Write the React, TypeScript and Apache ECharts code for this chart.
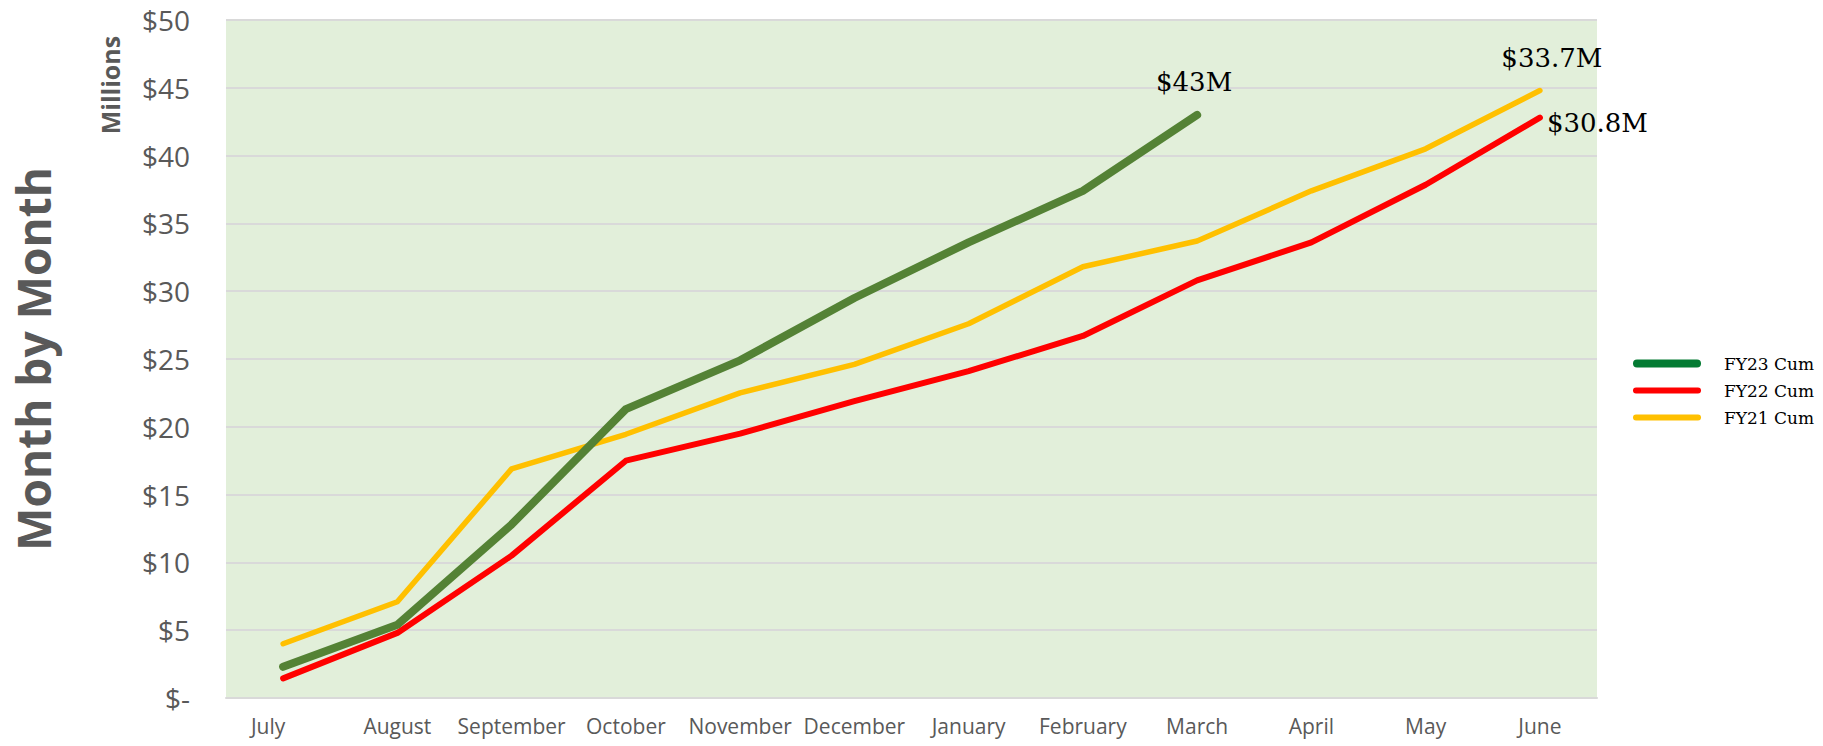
import React, { useEffect, useRef } from "react";
import * as echarts from "echarts";

const months = ["July", "August", "September", "October", "November", "December", "January", "February", "March", "April", "May", "June"];
const fy23 = [2.3, 5.4, 12.8, 21.3, 24.9, 29.5, 33.6, 37.4, 43.0];
const fy22 = [1.45, 4.8, 10.5, 17.5, 19.5, 21.9, 24.1, 26.7, 30.8, 33.6, 37.85, 42.8];
const fy21 = [4.0, 7.1, 16.9, 19.45, 22.5, 24.6, 27.6, 31.8, 33.7, 37.4, 40.5, 44.8];
const seriesNames = ["FY23 Cum", "FY22 Cum", "FY21 Cum"];
const endLabels = ["$43M", "$30.8M", "$33.7M"];
const yTicks = [0, 5, 10, 15, 20, 25, 30, 35, 40, 45, 50];

const GREEN = "#548235";
const LEGEND_GREEN = "#047B33";
const RED = "#FF0000";
const YELLOW = "#FFC000";

const iconThick = "path://M4,0 H64 A4,4 0 0 1 64,8 H4 A4,4 0 0 1 4,0 Z";
const iconThin = "path://M3,0 H65 A3,3 0 0 1 65,6 H3 A3,3 0 0 1 3,0 Z";

function withEndLabel(values: number[], text: string, label: any) {
  return values.map((v, i) =>
    i === values.length - 1
      ? { value: v, label: { show: true, formatter: text, ...label } }
      : v
  );
}

export default function App() {
  const ref = useRef<HTMLDivElement>(null);
  useEffect(() => {
    if (!ref.current) return;
    const chart = echarts.init(ref.current, undefined, { renderer: "svg" });
    const serifLabel = {
      fontFamily: "DejaVu Serif",
      fontSize: 26,
      color: "#000000",
    };
    const lineCommon = {
      type: "line",
      symbol: "circle",
      symbolSize: 0,
      showSymbol: true,
      label: { show: false },
    };
    chart.setOption({
      animation: false,
      backgroundColor: "#ffffff",
      grid: {
        left: 226,
        right: 226,
        top: 20,
        bottom: 48,
        show: true,
        backgroundColor: "#E2EFDA",
        borderWidth: 0,
      },
      legend: {
        orient: "vertical",
        left: 1633,
        top: 355,
        padding: 0,
        itemWidth: 68,
        itemHeight: 14,
        itemGap: 10,
        symbolKeepAspect: true,
        textStyle: {
          fontFamily: "DejaVu Serif",
          fontSize: 17,
          color: "#000000",
          padding: [0, 0, 0, 18],
        },
        data: [
          { name: seriesNames[0], icon: iconThick, itemStyle: { color: LEGEND_GREEN } },
          { name: seriesNames[1], icon: iconThin, itemStyle: { color: RED } },
          { name: seriesNames[2], icon: iconThin, itemStyle: { color: YELLOW } },
        ],
      },
      xAxis: {
        type: "category",
        data: months,
        boundaryGap: true,
        axisLine: { show: true, lineStyle: { color: "#D9D9D9", width: 2 } },
        axisTick: { show: false },
        axisLabel: {
          interval: 0,
          color: "#595959",
          fontFamily: "Open Sans",
          fontSize: 21,
          margin: 17,
          formatter: (v: string, i: number) => (i === 0 ? "{first|" + v + "}" : v),
          rich: {
            first: {
              color: "#595959",
              fontFamily: "Open Sans",
              fontSize: 21,
              padding: [0, 30, 0, 0],
            },
          },
        },
      },
      yAxis: {
        type: "value",
        min: 0,
        max: 50,
        interval: 5,
        axisLine: { show: false },
        axisTick: { show: false },
        splitLine: { show: true, lineStyle: { color: "#D9D9D9", width: 2 } },
        axisLabel: {
          color: "#595959",
          fontFamily: "Open Sans",
          fontSize: 28,
          margin: 36,
          formatter: (v: number) => (yTicks.includes(v) ? (v === 0 ? "$-" : "$" + v) : ""),
        },
      },
      graphic: [
        {
          type: "text",
          x: 33,
          y: 359,
          rotation: Math.PI / 2,
          style: {
            text: "Month by Month",
            fontFamily: "Open Sans",
            fontWeight: "bold",
            fontSize: 46,
            fill: "#595959",
            align: "center",
            verticalAlign: "middle",
          },
        },
        {
          type: "text",
          x: 110,
          y: 85,
          rotation: Math.PI / 2,
          style: {
            text: "Millions",
            fontFamily: "Open Sans",
            fontWeight: "bold",
            fontSize: 25,
            fill: "#595959",
            align: "center",
            verticalAlign: "middle",
          },
        },
      ],
      series: [
        {
          ...lineCommon,
          name: seriesNames[2],
          lineStyle: { color: YELLOW, width: 5.5, cap: "round", join: "round" },
          itemStyle: { color: YELLOW },
          z: 2,
          data: withEndLabel(fy21, endLabels[2], { ...serifLabel, position: "top", distance: 20, offset: [12, 0] }),
        },
        {
          ...lineCommon,
          name: seriesNames[1],
          lineStyle: { color: RED, width: 6, cap: "round", join: "round" },
          itemStyle: { color: RED },
          z: 3,
          data: withEndLabel(fy22, endLabels[1], { ...serifLabel, position: "right", distance: 7, offset: [0, 5] }),
        },
        {
          ...lineCommon,
          name: seriesNames[0],
          lineStyle: { color: GREEN, width: 8, cap: "round", join: "round" },
          itemStyle: { color: GREEN },
          z: 4,
          data: withEndLabel(fy23, endLabels[0], { ...serifLabel, position: "top", distance: 20, offset: [-3, 0] }),
        },
      ],
    });
    return () => chart.dispose();
  }, []);
  return (
    <div
      ref={ref}
      style={{ position: "absolute", left: 0, top: 0, width: 1823, height: 746 }}
    />
  );
}
